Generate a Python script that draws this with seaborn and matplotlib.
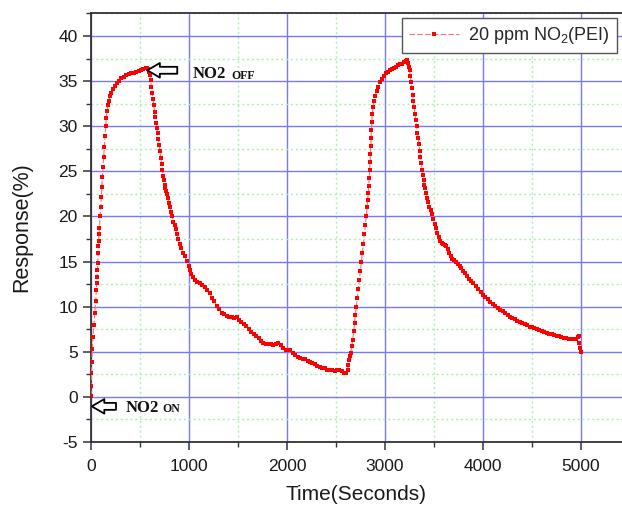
import matplotlib
matplotlib.use("Agg")
import matplotlib.pyplot as plt
import seaborn as sns
import pandas as pd
from matplotlib.ticker import MultipleLocator

# ---------------- data ----------------
rise1_t = [0, 2, 5, 8, 13, 20, 30, 40, 48, 55, 58, 62, 66, 69, 72, 75, 78, 81, 85, 92,
           99, 105, 110, 116, 122, 129, 136, 143, 150, 156, 163, 172, 182, 194, 208, 224,
           242, 262, 285, 310, 335, 360, 385, 410, 435, 460, 485, 510, 535, 560, 575]
rise1_r = [0.1, 1.2, 2.6, 3.9, 5.3, 6.6, 8.0, 9.3, 10.6, 11.9, 12.6, 13.3, 14.1, 14.8, 15.9,
           16.7, 17.3, 18.0, 18.7, 20.0, 21.1, 22.2, 23.3, 24.4, 25.5, 26.6, 27.7, 28.9, 30.0,
           30.9, 31.7, 32.3, 32.8, 33.3, 33.7, 34.1, 34.45, 34.75, 35.05, 35.3, 35.5, 35.65,
           35.75, 35.85, 35.95, 36.05, 36.15, 36.25, 36.35, 36.4, 36.45]

drop1_t = [585, 593, 600, 608, 616, 624, 632, 640, 648, 656, 664, 672, 680, 688, 696, 704,
           712, 720, 728, 736, 744, 752, 760, 768, 776, 785, 795, 805, 815, 827, 840, 852,
           864, 877, 890, 905, 920, 937, 955, 975, 995, 1010, 1025, 1040]
drop1_r = [36.3, 36.0, 35.7, 35.1, 34.4, 33.7, 33.0, 32.3, 31.6, 31.0, 30.4, 29.8, 29.2, 28.6,
           27.9, 27.2, 26.5, 25.8, 25.1, 24.5, 24.0, 23.5, 23.1, 22.8, 22.5, 22.0, 21.5, 21.0,
           20.5, 20.0, 19.4, 19.0, 18.6, 18.0, 17.5, 17.0, 16.5, 16.0, 15.6, 15.1, 14.5, 14.1,
           13.6, 13.25]

decay1_t = [1060, 1085, 1110, 1135, 1160, 1185, 1210, 1235, 1260, 1285, 1310, 1335, 1360,
            1385, 1410, 1435, 1460, 1485, 1510, 1535, 1560, 1585, 1610, 1635, 1660, 1685,
            1710, 1735, 1760, 1785, 1810, 1835, 1860, 1885, 1910, 1935, 1960, 1985, 2010,
            2035, 2060, 2085, 2110, 2135, 2160, 2185, 2210, 2235, 2260, 2285, 2310, 2335,
            2360, 2385, 2410, 2435, 2460, 2485, 2510, 2535, 2560, 2585, 2605]
decay1_r = [13.0, 12.75, 12.6, 12.45, 12.2, 11.9, 11.5, 11.0, 10.6, 10.1, 9.7, 9.3, 9.15, 9.0,
            8.85, 8.8, 8.75, 8.8, 8.55, 8.3, 8.05, 7.85, 7.55, 7.2, 6.95, 6.75, 6.5, 6.2, 6.0,
            5.9, 5.85, 5.85, 5.8, 5.85, 5.95, 5.75, 5.45, 5.25, 5.2, 5.15, 4.85, 4.6, 4.45,
            4.35, 4.25, 4.15, 4.0, 3.9, 3.8, 3.6, 3.45, 3.3, 3.25, 3.15, 3.0, 2.95, 2.95, 2.9,
            2.95, 3.0, 2.9, 2.7, 2.6]

rise2_t = [2618, 2626, 2635, 2643, 2650, 2660, 2670, 2681, 2689, 2697, 2707, 2718, 2728,
           2738, 2748, 2758, 2769, 2779, 2789, 2799, 2809, 2816, 2823, 2829, 2834, 2839,
           2843, 2847, 2851, 2855, 2858, 2861, 2865, 2870, 2877, 2887, 2900, 2915, 2932,
           2950, 2970, 2990, 3010, 3030, 3050, 3070, 3090, 3110, 3130, 3150, 3170, 3190,
           3210, 3225]
rise2_r = [3.0, 3.5, 4.1, 4.5, 4.9, 5.6, 6.3, 7.3, 8.2, 9.1, 10.0, 11.0, 12.0, 13.0, 13.9,
           14.9, 15.9, 16.9, 18.0, 19.0, 20.0, 21.0, 21.8, 22.6, 23.4, 24.3, 25.2, 26.0, 26.9,
           27.8, 28.7, 29.6, 30.5, 31.3, 32.1, 32.8, 33.4, 33.9, 34.4, 34.85, 35.25, 35.6,
           35.85, 36.05, 36.2, 36.3, 36.45, 36.6, 36.75, 36.85, 36.95, 37.1, 37.25, 37.35]

drop2_t = [3235, 3243, 3250, 3258, 3266, 3274, 3282, 3290, 3298, 3306, 3314, 3322, 3330,
           3338, 3346, 3354, 3362, 3370, 3378, 3386, 3394, 3402, 3410, 3420, 3431, 3442,
           3453, 3465, 3476, 3490, 3505, 3520, 3535, 3550, 3565, 3580, 3595, 3610, 3625,
           3640, 3655, 3670, 3685, 3700, 3720, 3740, 3760, 3780, 3800, 3820, 3840, 3860,
           3880, 3900, 3925, 3950, 3975, 4000]
drop2_r = [37.0, 36.6, 36.2, 35.6, 34.9, 34.2, 33.5, 32.8, 32.1, 31.4, 30.7, 30.0, 29.3, 28.7,
           28.0, 27.3, 26.6, 25.9, 25.2, 24.6, 24.0, 23.5, 23.1, 22.6, 22.1, 21.6, 21.1, 20.7,
           20.3, 19.7, 19.2, 18.7, 18.2, 17.7, 17.3, 17.1, 16.9, 16.8, 16.7, 16.4, 16.0, 15.6,
           15.3, 15.15, 14.9, 14.7, 14.5, 14.3, 14.0, 13.7, 13.4, 13.1, 12.85, 12.6, 12.3,
           12.0, 11.65, 11.3]

tail_t = [4025, 4050, 4075, 4100, 4125, 4150, 4175, 4200, 4225, 4250, 4275, 4300, 4325,
          4350, 4375, 4400, 4425, 4450, 4475, 4500, 4525, 4550, 4575, 4600, 4625, 4650,
          4675, 4700, 4725, 4750, 4775, 4800, 4825, 4850, 4875, 4900, 4925, 4950, 4965,
          4975, 4983, 4990, 4995]
tail_r = [11.05, 10.8, 10.55, 10.3, 10.05, 9.85, 9.65, 9.5, 9.3, 9.1, 8.9, 8.75, 8.6, 8.45,
          8.3, 8.2, 8.05, 7.95, 7.8, 7.7, 7.6, 7.5, 7.4, 7.3, 7.2, 7.1, 7.0, 6.95, 6.85, 6.8,
          6.7, 6.65, 6.55, 6.5, 6.45, 6.45, 6.4, 6.4, 6.6, 6.7, 6.0, 5.4, 5.0]

series_label = "20 ppm NO$_2$(PEI)"
x_ticks = [0, 1000, 2000, 3000, 4000, 5000]
y_ticks = [-5, 0, 5, 10, 15, 20, 25, 30, 35, 40]

time_s = rise1_t + drop1_t + decay1_t + rise2_t + drop2_t + tail_t
response_pct = rise1_r + drop1_r + decay1_r + rise2_r + drop2_r + tail_r
df = pd.DataFrame({"Time": time_s, "Response": response_pct})

# ---------------- style ----------------
sns.set_style("ticks")
plt.rcParams["font.family"] = ["Liberation Sans", "DejaVu Sans"]
plt.rcParams["axes.unicode_minus"] = False
plt.rcParams["mathtext.fontset"] = "custom"
plt.rcParams["mathtext.rm"] = "Liberation Sans"
plt.rcParams["mathtext.it"] = "Liberation Sans:italic"

fig = plt.figure(figsize=(6.22, 5.07), dpi=100)
ax = fig.add_axes([91 / 622, 65 / 507, (622 - 91) / 622, 429 / 507])

sns.lineplot(data=df, x="Time", y="Response", ax=ax, estimator=None, sort=False,
             color="#ff7070", linewidth=0.8, linestyle=(0, (5, 2)),
             marker="s", markersize=3.0, markerfacecolor="red",
             markeredgecolor="red", markeredgewidth=0, label=series_label, zorder=3)

ax.set_xlim(0, 5418)
ax.set_ylim(-5, 42.55)
ax.set_xticks(x_ticks)
ax.set_yticks(y_ticks)
ax.xaxis.set_minor_locator(MultipleLocator(500))
ax.yaxis.set_minor_locator(MultipleLocator(2.5))

ax.set_axisbelow(True)
ax.grid(which="major", color="#7777ff", linewidth=1.0, linestyle="-")
ax.grid(which="minor", color="#b0eeb0", linewidth=1.0, linestyle=(0, (1.5, 2)))

for side in ["left", "bottom", "top"]:
    ax.spines[side].set_color("#333333")
    ax.spines[side].set_linewidth(1.3)
ax.spines["right"].set_visible(False)

ax.tick_params(axis="both", which="major", direction="out", length=5.5, width=1.1,
               color="#333333", labelsize=12.5, labelcolor="#1a1a1a", pad=4)
ax.tick_params(axis="x", which="major", pad=7)
ax.tick_params(axis="both", which="minor", direction="out", length=3.5, width=1.0,
               color="#333333")
ax.tick_params(top=False, right=False, which="both")

ax.set_xlabel("Time(Seconds)", fontsize=15, color="#1a1a1a", labelpad=8)
ax.set_ylabel("Response(%)", fontsize=15.5, color="#1a1a1a", labelpad=19)

leg = ax.legend(loc="upper right", bbox_to_anchor=(0.991, 0.989), borderaxespad=0,
                fontsize=13, frameon=True, fancybox=False, framealpha=1,
                edgecolor="#555555", handlelength=2.8, handletextpad=0.5,
                borderpad=0.4)
leg.get_frame().set_linewidth(1.0)

# annotations
arrow_kw = dict(arrowstyle="simple,head_length=0.9,head_width=1.05,tail_width=0.5",
                fc="white", ec="black", lw=1.3, shrinkA=0, shrinkB=0)
ax.annotate("", xy=(575, 36.2), xytext=(880, 36.2), arrowprops=arrow_kw, zorder=5)
ax.annotate("", xy=(8, -1.05), xytext=(255, -1.05), arrowprops=arrow_kw, zorder=5)

serif = ["Liberation Serif", "DejaVu Serif"]
ax.text(1038, 35.32, "NO2", family=serif, fontweight="bold", fontsize=12,
        ha="left", va="baseline", color="#111111")
ax.text(1436, 35.24, "OFF", family=serif, fontweight="bold", fontsize=8.5,
        ha="left", va="baseline", color="#111111")
ax.text(357, -1.67, "NO2", family=serif, fontweight="bold", fontsize=12,
        ha="left", va="baseline", color="#111111")
ax.text(728, -1.67, "ON", family=serif, fontweight="bold", fontsize=8.5,
        ha="left", va="baseline", color="#111111")

fig.savefig("out.png", dpi=100)
